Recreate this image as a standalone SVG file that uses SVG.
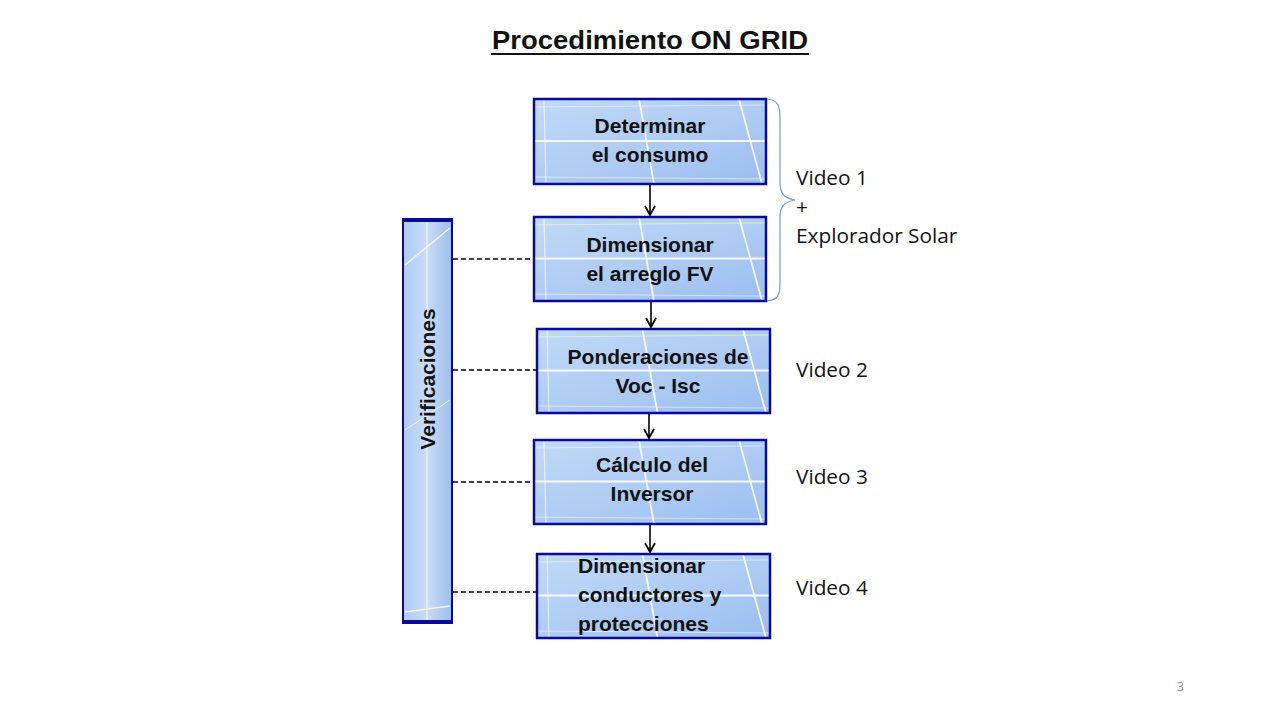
<svg xmlns="http://www.w3.org/2000/svg" width="1280" height="720" viewBox="0 0 1280 720">
<defs>
<linearGradient id="pg" x1="0" y1="0" x2="1" y2="1">
<stop offset="0" stop-color="#c2daf7"/>
<stop offset="0.5" stop-color="#afccf3"/>
<stop offset="1" stop-color="#9cbff0"/>
</linearGradient>
<linearGradient id="vg" x1="0" y1="0" x2="1" y2="0">
<stop offset="0" stop-color="#afccf4"/>
<stop offset="0.5" stop-color="#c8dcf7"/>
<stop offset="1" stop-color="#9cbdee"/>
</linearGradient>
<symbol id="panel" viewBox="0 0 232 85" preserveAspectRatio="none">
<rect x="0" y="0" width="232" height="85" fill="url(#pg)"/>
<g stroke="#ffffff" stroke-width="1.8" fill="none" opacity="0.9">
<line x1="0" y1="42" x2="232" y2="42"/>
<line x1="0" y1="8" x2="232" y2="6" stroke-width="1" opacity="0.6"/>
<line x1="0" y1="78" x2="232" y2="80" stroke-width="1" opacity="0.6"/>
<line x1="105" y1="0" x2="120" y2="85"/>
<line x1="205" y1="0" x2="228" y2="85"/>
<line x1="10" y1="0" x2="12" y2="85" stroke-width="1.2" opacity="0.7"/>
</g>
</symbol>
<marker id="ah" viewBox="0 0 12 12" refX="11" refY="6" markerWidth="12" markerHeight="12" orient="auto" markerUnits="userSpaceOnUse">
<path d="M2,1 L11,6 L2,11" fill="none" stroke="#000" stroke-width="1.8"/>
</marker>
<style>
.box{fill:none;stroke:#0a0a9a;stroke-width:2.5}
.bt{font-family:"Liberation Sans",Arial,sans-serif;font-weight:bold;font-size:21px;fill:#111;text-anchor:middle}
.bs{font-family:"Liberation Sans",Arial,sans-serif;font-weight:bold;font-size:21px;fill:#111;text-anchor:start}
.lt{font-family:"Open Sans","Liberation Sans",sans-serif;font-size:20.8px;fill:#111}
.arr{stroke:#000;stroke-width:1.6;fill:none}
.dash{stroke:#000;stroke-width:1.5;stroke-dasharray:5,3;fill:none}
</style>
</defs>
<rect width="1280" height="720" fill="#fff"/>
<g id="title">
<text x="650" y="49" font-family="Liberation Sans,Arial,sans-serif" font-weight="bold" font-size="26" text-anchor="middle" fill="#111" textLength="316" lengthAdjust="spacingAndGlyphs">Procedimiento ON GRID</text>
<line x1="491" y1="54" x2="809" y2="54" stroke="#111" stroke-width="2"/>
</g>
<g id="connectors">
<line class="arr" x1="650" y1="185" x2="650" y2="215" marker-end="url(#ah)"/>
<line class="arr" x1="651" y1="302" x2="651" y2="327" marker-end="url(#ah)"/>
<line class="arr" x1="649" y1="414" x2="649" y2="438" marker-end="url(#ah)"/>
<line class="arr" x1="650" y1="525" x2="650" y2="552" marker-end="url(#ah)"/>
<line class="dash" x1="453" y1="259" x2="534" y2="259"/>
<line class="dash" x1="453" y1="370" x2="537" y2="370"/>
<line class="dash" x1="453" y1="482" x2="534" y2="482"/>
<line class="dash" x1="453" y1="592" x2="541" y2="592"/>
<path d="M767,99 C778,100 780,106 780,118 L780,182 C780,194 784,198 795,200 C784,202 780,206 780,218 L780,283 C780,295 778,300 767,301" fill="none" stroke="#7f97b8" stroke-width="1.2"/>
</g>
<g id="n1">
<use href="#panel" x="534" y="99" width="232" height="85"/>
<rect class="box" x="534" y="99" width="232" height="85"/>
<text class="bt" x="650" y="133">Determinar</text>
<text class="bt" x="650" y="162">el consumo</text>
</g>
<g id="n2">
<use href="#panel" x="534" y="217" width="232" height="84"/>
<rect class="box" x="534" y="217" width="232" height="84"/>
<text class="bt" x="650" y="252">Dimensionar</text>
<text class="bt" x="650" y="281">el arreglo FV</text>
</g>
<g id="n3">
<use href="#panel" x="537" y="329" width="233" height="84"/>
<rect class="box" x="537" y="329" width="233" height="84"/>
<text class="bt" x="658" y="364">Ponderaciones de</text>
<text class="bt" x="658" y="393">Voc - Isc</text>
</g>
<g id="n4">
<use href="#panel" x="534" y="440" width="232" height="84"/>
<rect class="box" x="534" y="440" width="232" height="84"/>
<text class="bt" x="652" y="472">Cálculo del</text>
<text class="bt" x="652" y="501">Inversor</text>
</g>
<g id="n5">
<use href="#panel" x="537" y="554" width="233" height="84"/>
<rect class="box" x="537" y="554" width="233" height="84"/>
<text class="bs" x="578" y="573">Dimensionar</text>
<text class="bs" x="578" y="602">conductores y</text>
<text class="bs" x="578" y="631">protecciones</text>
</g>
<g id="verificaciones">
<rect x="403" y="219" width="49" height="404" fill="url(#vg)"/>
<g stroke="#fff" stroke-width="1.5" fill="none" opacity="0.85">
<line x1="427" y1="222" x2="427" y2="620" stroke-width="1"/>
<line x1="405" y1="265" x2="450" y2="228"/>
<line x1="405" y1="430" x2="450" y2="400" stroke-width="1"/>
<line x1="405" y1="612" x2="450" y2="606"/>
</g>
<rect x="403" y="219" width="49" height="404" fill="none" stroke="#0a0a9a" stroke-width="2"/>
<line x1="403" y1="220" x2="452" y2="220" stroke="#0a0a9a" stroke-width="4"/>
<line x1="403" y1="622" x2="452" y2="622" stroke="#0a0a9a" stroke-width="4"/>
<text class="bt" transform="translate(435,379) rotate(-90)">Verificaciones</text>
</g>
<g id="labels">
<text class="lt" x="796" y="185">Video 1</text>
<text class="lt" x="796" y="214">+</text>
<text class="lt" x="796" y="243">Explorador Solar</text>
<text class="lt" x="796" y="377">Video 2</text>
<text class="lt" x="796" y="484">Video 3</text>
<text class="lt" x="796" y="595">Video 4</text>
<text x="1177" y="691" font-family="Open Sans,Liberation Sans,sans-serif" font-size="12" fill="#888">3</text>
</g>
</svg>
